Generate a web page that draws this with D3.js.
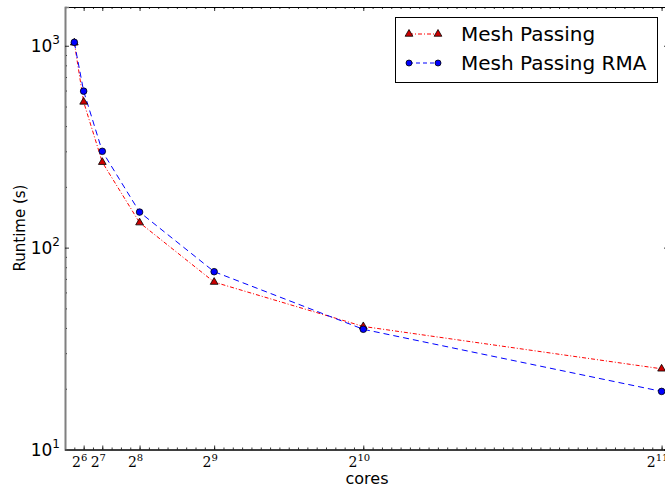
<!DOCTYPE html>
<html>
<head>
<meta charset="utf-8">
<script src="https://cdn.jsdelivr.net/npm/d3@7"></script>
<style>
  body { margin: 0; background: #fff; }
  svg { display: block; font-family: "DejaVu Sans", sans-serif; }
</style>
</head>
<body>
<div class="chart"></div>
<script>
// data
var cores = [32, 64, 128, 256, 512, 1024, 2048];
var meshPassing = [1035, 527, 265, 133, 67.5, 40.7, 25.1];
var meshPassingRMA = [1040, 596, 300, 150, 76, 39.4, 19.4];
var xTickPowers = [6, 7, 8, 9, 10, 11];
var yTickPowers = [1, 2, 3];
var seriesNames = ["Mesh Passing", "Mesh Passing RMA"];

var svgWidth = 665;
var svgHeight = 488;
var margin = { top: 7, right: -3, bottom: 38.5, left: 65 };
var width = svgWidth - margin.left - margin.right;
var height = svgHeight - margin.top - margin.bottom;

var svg = d3.select('.chart')
  .append('svg')
    .attr('width', svgWidth)
    .attr('height', svgHeight);

var chart = svg.append('g')
  .attr('transform', 'translate(' + margin.left + ',' + margin.top + ')');

var x = d3.scaleLinear().domain([0, 2070]).range([0, width]);
var y = d3.scaleLog().domain([10, 1556]).range([height, 0]);

// minor ticks every 32 cores, major at powers of two
var xMinor = d3.range(32, 2070, 32);
var xMajor = xTickPowers.map(function(p) { return Math.pow(2, p); });
var yMinor = [];
[10, 100, 1000].forEach(function(d) {
  for (var k = 2; k <= 9; k++) if (d * k < 1556) yMinor.push(d * k);
});
var yMajor = yTickPowers.map(function(p) { return Math.pow(10, p); });

function tickAxis(axis, vals, size) {
  return axis.tickValues(vals).tickSize(-size).tickFormat('');
}

// bottom/top axes
chart.append('g').attr('transform', 'translate(0,' + height + ')')
  .call(tickAxis(d3.axisBottom(x), xMinor, 2));
chart.append('g').attr('transform', 'translate(0,' + height + ')')
  .call(tickAxis(d3.axisBottom(x), xMajor, 4));
chart.append('g')
  .call(tickAxis(d3.axisTop(x), xMinor, 2));
chart.append('g')
  .call(tickAxis(d3.axisTop(x), xMajor, 4));
// left/right axes
chart.append('g').attr('class', 'yleft')
  .call(tickAxis(d3.axisLeft(y), yMinor, 2));
chart.append('g').attr('class', 'yleft')
  .call(tickAxis(d3.axisLeft(y), yMajor, 4));
chart.append('g').attr('transform', 'translate(' + width + ',0)')
  .call(tickAxis(d3.axisRight(y), yMinor, 2));
chart.append('g').attr('transform', 'translate(' + width + ',0)')
  .call(tickAxis(d3.axisRight(y), yMajor, 4));

chart.selectAll('.domain').attr('stroke', '#000').attr('stroke-width', 1);
chart.selectAll('.yleft .domain').attr('stroke', '#808080').attr('stroke-width', 1.6);
chart.selectAll('.tick line').attr('stroke', '#000').attr('stroke-width', 0.8);

// x tick labels 2^n
var xl = chart.append('g').selectAll('text')
  .data(xTickPowers)
  .enter().append('text')
    .attr('x', function(p) { return x(Math.pow(2, p)) - 4; })
    .attr('y', height + 17)
    .attr('text-anchor', 'middle')
    .attr('font-family', '"DejaVu Serif", serif')
    .attr('font-size', 14);
xl.append('tspan').text('2');
xl.append('tspan').attr('dy', -6).attr('font-size', 10).text(function(p) { return p; });

// y tick labels 10^n
var yl = chart.append('g').selectAll('text')
  .data(yTickPowers)
  .enter().append('text')
    .attr('x', -5)
    .attr('y', function(p) { return y(Math.pow(10, p)) + 6; })
    .attr('text-anchor', 'end')
    .attr('font-size', 17);
yl.append('tspan').text('10');
yl.append('tspan').attr('dy', -8).attr('font-size', 12).text(function(p) { return p; });

// axis labels
svg.append('text')
  .attr('transform', 'translate(' + 25 + ',' + 228 + ') rotate(-90)')
  .attr('text-anchor', 'middle')
  .attr('font-size', 15)
  .text('Runtime (s)');

svg.append('text')
  .attr('x', 367)
  .attr('y', 484)
  .attr('text-anchor', 'middle')
  .attr('font-size', 16)
  .text('cores');

// lines
var line1 = d3.line()
  .x(function(d, i) { return x(cores[i]); })
  .y(function(d) { return y(d); });

chart.append('path')
  .datum(meshPassing)
  .attr('d', line1)
  .attr('fill', 'none')
  .attr('stroke', '#ff0000')
  .attr('stroke-width', 1)
  .attr('stroke-dasharray', '4,2,1,2');

chart.append('path')
  .datum(meshPassingRMA)
  .attr('d', line1)
  .attr('fill', 'none')
  .attr('stroke', '#0000ff')
  .attr('stroke-width', 1)
  .attr('stroke-dasharray', '6,4');

var tri = d3.symbol().type(d3.symbolTriangle).size(26);

chart.selectAll('.tri')
  .data(meshPassing)
  .enter().append('path')
    .attr('class', 'tri')
    .attr('d', tri)
    .attr('transform', function(d, i) { return 'translate(' + x(cores[i]) + ',' + y(d) + ')'; })
    .attr('fill', '#cc0000')
    .attr('stroke', '#000')
    .attr('stroke-width', 0.8);

chart.selectAll('.dot')
  .data(meshPassingRMA)
  .enter().append('circle')
    .attr('class', 'dot')
    .attr('cx', function(d, i) { return x(cores[i]); })
    .attr('cy', function(d) { return y(d); })
    .attr('r', 3.3)
    .attr('fill', '#0000ff')
    .attr('stroke', '#000')
    .attr('stroke-width', 0.8);

// legend
var legend = svg.append('g');
legend.append('rect')
  .attr('x', 395.5).attr('y', 17.5)
  .attr('width', 262).attr('height', 65)
  .attr('fill', '#fff')
  .attr('stroke', '#000')
  .attr('stroke-width', 1);

var legendY = [34, 63];
legendY.forEach(function(ly, i) {
  legend.append('line')
    .attr('x1', 409).attr('x2', 438)
    .attr('y1', ly).attr('y2', ly)
    .attr('stroke', i === 0 ? '#ff0000' : '#0000ff')
    .attr('stroke-dasharray', i === 0 ? '4,2,1,2' : '4,3');
  [409, 438].forEach(function(lx) {
    if (i === 0) {
      legend.append('path')
        .attr('d', tri)
        .attr('transform', 'translate(' + lx + ',' + ly + ')')
        .attr('fill', '#cc0000').attr('stroke', '#000').attr('stroke-width', 0.8);
    } else {
      legend.append('circle')
        .attr('cx', lx).attr('cy', ly).attr('r', 3)
        .attr('fill', '#0000ff').attr('stroke', '#000').attr('stroke-width', 0.8);
    }
  });
  legend.append('text')
    .attr('x', 461)
    .attr('y', ly + 7)
    .attr('font-size', 20)
    .text(seriesNames[i]);
});
</script>
</body>
</html>
